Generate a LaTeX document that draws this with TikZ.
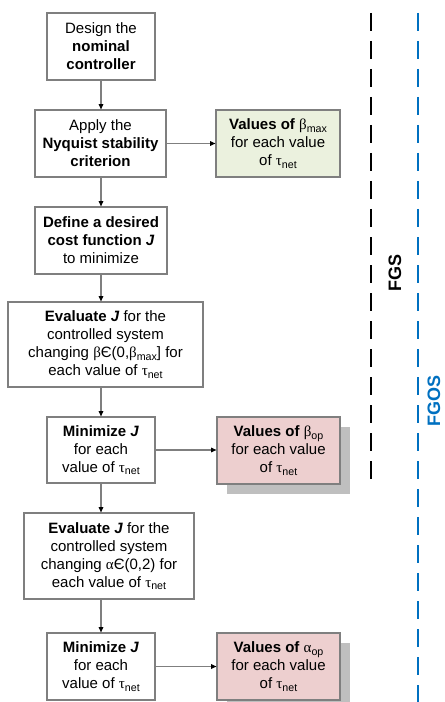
\documentclass[tikz,border=0pt]{standalone}
\usepackage{fontspec}
\setmainfont{Liberation Sans}
\newfontfamily\grk{Liberation Serif}
\usetikzlibrary{arrows.meta,shadows}
\definecolor{boxline}{HTML}{7F7F7F}
\definecolor{greenfill}{HTML}{EBF1DE}
\definecolor{pinkfill}{HTML}{EDCFCF}
\definecolor{shadowgray}{HTML}{BFBFBF}
\definecolor{fgosblue}{HTML}{0070C0}
\newcommand\gsub[2]{{\grk #1}\raisebox{-0.35ex}{\fontsize{8}{8}\selectfont #2}}
\tikzset{
  box/.style={draw=boxline, line width=0.9pt, fill=white, align=center,
    font=\fontsize{11.25}{13.5}\selectfont, inner sep=1pt},
  resgreen/.style={box, fill=greenfill},
  respink/.style={box, fill=pinkfill,
    general shadow={shadow xshift=7.5pt, shadow yshift=-7.5pt, fill=shadowgray}},
  conn/.style={draw=boxline, line width=0.8pt,
    -{Triangle[length=4pt,width=3.5pt,color=black]}},
  sepline/.style={line width=2.2pt, dash pattern=on 13.5pt off 7.5pt},
}
\begin{document}
\begin{tikzpicture}[x=0.75pt,y=-0.75pt]
\useasboundingbox (0,0) rectangle (444,702);
\node[box, minimum width=108*0.75pt, minimum height=67*0.75pt] (b1) at (101,46.5)
  {Design the\\\textbf{nominal}\\\textbf{controller}};
\node[box, minimum width=131*0.75pt, minimum height=67*0.75pt] (b2) at (100.5,143.5)
  {Apply the\\\textbf{Nyquist stability}\\\textbf{criterion}};
\node[box, minimum width=132*0.75pt, minimum height=67*0.75pt] (b3) at (101,240.5)
  {\textbf{Define a desired}\\\textbf{cost function \textit{J}}\\to minimize};
\node[box, minimum width=195*0.75pt, minimum height=85*0.75pt] (b4) at (105.5,344.5)
  {\textbf{Evaluate \textit{J}} for the\\controlled system\\changing {\grk β}Є(0,\gsub{β}{max}] for\\each value of \gsub{τ}{net}};
\node[box, minimum width=108*0.75pt, minimum height=66*0.75pt] (b5) at (101,450)
  {\textbf{Minimize \textit{J}}\\for each\\value of \gsub{τ}{net}};
\node[box, minimum width=170*0.75pt, minimum height=86*0.75pt] (b6) at (109,556)
  {\textbf{Evaluate \textit{J}} for the\\controlled system\\changing {\grk α}Є(0,2) for\\each value of \gsub{τ}{net}};
\node[box, minimum width=108*0.75pt, minimum height=67*0.75pt] (b7) at (101,666.5)
  {\textbf{Minimize \textit{J}}\\for each\\value of \gsub{τ}{net}};
\node[resgreen, minimum width=124*0.75pt, minimum height=67*0.75pt] (r1) at (278,143.5)
  {\textbf{Values of} \gsub{β}{max}\\for each value\\of \gsub{τ}{net}};
\node[respink, minimum width=123*0.75pt, minimum height=67*0.75pt] (r2) at (278.5,450.5)
  {\textbf{Values of} \gsub{β}{op}\\for each value\\of \gsub{τ}{net}};
\node[respink, minimum width=123*0.75pt, minimum height=67*0.75pt] (r3) at (278.5,666.5)
  {\textbf{Values of} \gsub{α}{op}\\for each value\\of \gsub{τ}{net}};
\draw[conn] (b1.south) -- (b1.south |- b2.north);
\draw[conn] (b2.south -| b1.south) -- (b1.south |- b3.north);
\draw[conn] (b3.south -| b1.south) -- (b1.south |- b4.north);
\draw[conn] (b4.south -| b1.south) -- (b1.south |- b5.north);
\draw[conn] (b5.south -| b1.south) -- (b1.south |- b6.north);
\draw[conn] (b6.south -| b1.south) -- (b1.south |- b7.north);
\draw[conn] (b2.east) -- (r1.west);
\draw[conn] (b5.east) -- (b5.east -| r2.west);
\draw[conn] (b7.east) -- (b7.east -| r3.west);
\coordinate (fgsTop) at (371,13);
\coordinate (fgsBot) at (371,486);
\coordinate (fgosTop) at (418,13);
\coordinate (fgosBot) at (418,705);
\draw[sepline, black] (fgsTop) -- (fgsBot);
\draw[sepline, fgosblue, line width=1.8pt] (fgosTop) -- (fgosBot);
\node[rotate=90, font=\fontsize{13.5}{13.5}\selectfont\bfseries] (fgs) at (395,273) {FGS};
\node[rotate=90, font=\fontsize{13.5}{13.5}\selectfont\bfseries, text=fgosblue, inner sep=0pt] (fgos) at (434,401) {FGOS};
\end{tikzpicture}
\end{document}
